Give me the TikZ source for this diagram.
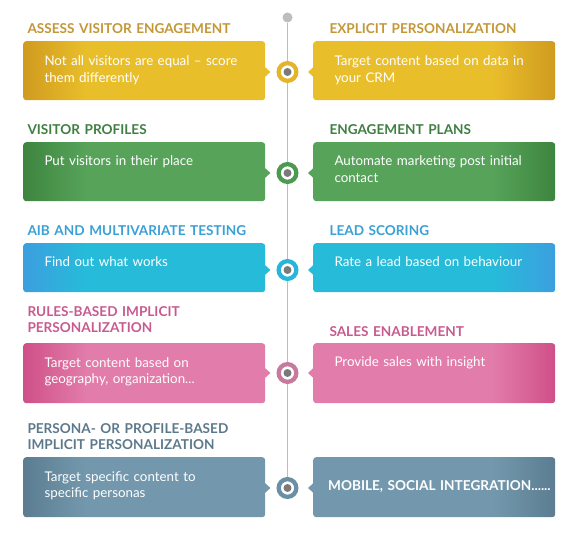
\documentclass[tikz,border=0pt]{standalone}
\usepackage{fontspec}
\setmainfont{Lato}
\usepackage{xcolor}
\usetikzlibrary{calc}
\definecolor{spinegrey}{HTML}{BDBDBD}
\definecolor{dotgrey}{HTML}{7A7A7A}
\definecolor{goldO}{HTML}{D09B1F}\definecolor{goldI}{HTML}{E9BE2B}\definecolor{goldT}{HTML}{C39738}\definecolor{goldR}{HTML}{E3B52A}
\definecolor{grnO}{HTML}{3E853F}\definecolor{grnI}{HTML}{57A35A}\definecolor{grnT}{HTML}{3F7F42}\definecolor{grnR}{HTML}{4C9A4E}
\definecolor{cyaO}{HTML}{3C9FDF}\definecolor{cyaI}{HTML}{26BBD9}\definecolor{cyaT}{HTML}{3AA0D6}\definecolor{cyaR}{HTML}{27B5DC}
\definecolor{pnkO}{HTML}{CF5088}\definecolor{pnkI}{HTML}{E27CAA}\definecolor{pnkT}{HTML}{C85A8E}\definecolor{pnkR}{HTML}{C87A9C}
\definecolor{slaO}{HTML}{5C7D91}\definecolor{slaI}{HTML}{7398AD}\definecolor{slaT}{HTML}{5C798C}\definecolor{slaR}{HTML}{6A8FA6}
\colorlet{ocol}{goldO}\colorlet{icol}{goldI}
\pgfdeclarehorizontalshading[ocol,icol]{outleft}{100bp}{color(0bp)=(ocol); color(25bp)=(ocol); color(38bp)=(icol); color(100bp)=(icol)}
\pgfdeclarehorizontalshading[ocol,icol]{outright}{100bp}{color(0bp)=(icol); color(62bp)=(icol); color(75bp)=(ocol); color(100bp)=(ocol)}
\begin{document}
\begin{tikzpicture}[x=1pt,y=-1pt,
  bx/.style={rectangle,rounded corners=3pt,minimum width=242pt,inner sep=0pt,anchor=north west},
  ttl/.style={anchor=base west,inner sep=0pt,align=left,text width=260pt,font=\bfseries\fontsize{13.6}{16}\selectfont},
  body/.style={anchor=base west,inner sep=0pt,align=left,text width=225pt,text=white,font=\fontsize{13.35}{16.5}\selectfont}]
\useasboundingbox (0,0) rectangle (580,534);
\node[circle,fill=spinegrey,minimum size=10pt,inner sep=0pt] (top) at (287.5,17.5) {};
\foreach \i/\t/\h/\c/\k in {1/41/59/72/gold,2/142/59/173/grn,3/243/49/270/cya,4/343/60/373/pnk,5/457/60/488/sla}{
  \colorlet{ocol}{\k O}\colorlet{icol}{\k I}
  \node[bx,shading=outleft,minimum height=\h pt] (L\i) at (23,\t) {};
  \node[bx,shading=outright,minimum height=\h pt] (R\i) at (313,\t) {};
  \fill[icol] ([xshift=-0.5pt]L\i.east|-0,\c) ++(0,-5) -- ++(5.5,5) -- ++(-5.5,5) -- cycle;
  \fill[icol] ([xshift=0.5pt]R\i.west|-0,\c) ++(0,-5) -- ++(-5.5,5) -- ++(5.5,5) -- cycle;
  \coordinate (c\i) at (287.5,\c);
}
\draw[spinegrey,line width=1pt] (top) -- (c5);
\foreach \i/\k in {1/gold,2/grn,3/cya,4/pnk,5/sla}{
  \node[circle,fill=white,draw=\k R,line width=4.3pt,minimum size=17.7pt,inner sep=0pt] (C\i) at (c\i) {};
  \node[circle,fill=dotgrey,minimum size=8pt,inner sep=0pt] at (C\i) {};
}
\node[ttl,text=goldT] (TL1) at (27.3,34) {ASSESS VISITOR ENGAGEMENT};
\node[ttl,text=goldT] (TR1) at (329.3,34) {EXPLICIT PERSONALIZATION};
\node[ttl,text=grnT] (TL2) at (27.3,135) {VISITOR PROFILES};
\node[ttl,text=grnT] (TR2) at (329.3,135) {ENGAGEMENT PLANS};
\node[ttl,text=cyaT] (TL3) at (27.3,235.7) {AIB AND MULTIVARIATE TESTING};
\node[ttl,text=cyaT] (TR3) at (329.3,235.7) {LEAD SCORING};
\node[ttl,text=pnkT] (TL4) at (27.3,316.7) {RULES-BASED IMPLICIT\\PERSONALIZATION};
\node[ttl,text=pnkT] (TR4) at (329.3,336) {SALES ENABLEMENT};
\node[ttl,text=slaT] (TL5) at (27.3,433.3) {PERSONA- OR PROFILE-BASED\\IMPLICIT PERSONALIZATION};
\node[body] (BL1) at ($(L1.north west)+(21.3,24.7)$) {Not all visitors are equal -- score\\them differently};
\node[body] (BR1) at ($(R1.north west)+(21.3,24.7)$) {Target content based on data in\\your CRM};
\node[body] (BL2) at ($(L2.north west)+(21.3,23.7)$) {Put visitors in their place};
\node[body] (BR2) at ($(R2.north west)+(21.3,23.7)$) {Automate marketing post initial\\contact};
\node[body] (BL3) at ($(L3.north west)+(21.3,24)$) {Find out what works};
\node[body] (BR3) at ($(R3.north west)+(21.3,24)$) {Rate a lead based on behaviour};
\node[body] (BL4) at ($(L4.north west)+(21.3,24)$) {Target content based on\\geography, organization...};
\node[body] (BR4) at ($(R4.north west)+(21.3,23.7)$) {Provide sales with insight};
\node[body] (BL5) at ($(L5.north west)+(21.3,24)$) {Target specific content to\\specific personas};
\node[body,font=\bfseries\fontsize{13.6}{16}\selectfont] (BR5) at ($(R5.north west)+(15,33)$) {MOBILE, SOCIAL INTEGRATION......};
\end{tikzpicture}
\end{document}
